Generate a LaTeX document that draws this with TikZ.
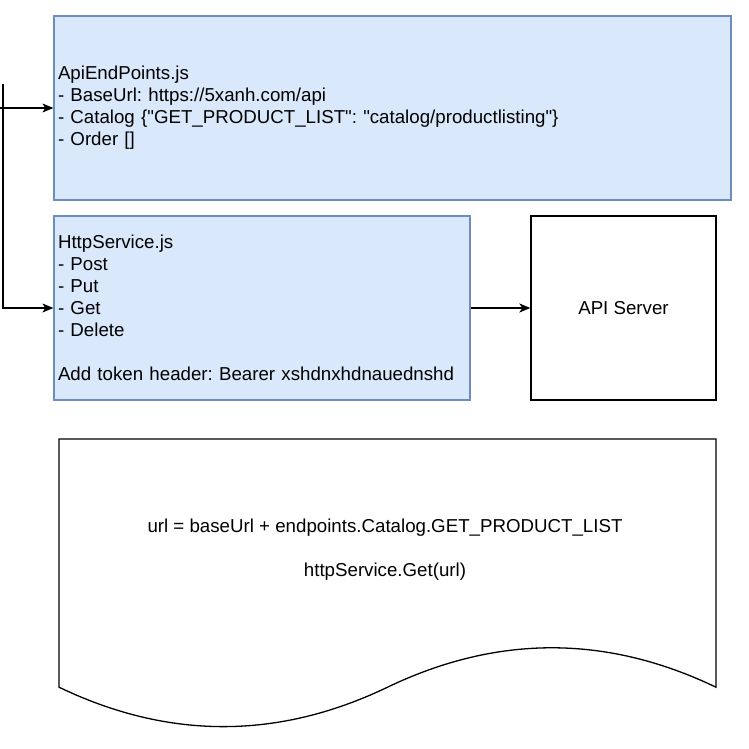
\documentclass[tikz,border=0pt]{standalone}
\usepackage{fontspec}
\newfontfamily\labelfont{Liberation Sans}
\usetikzlibrary{arrows.meta}
\definecolor{boxfill}{HTML}{DAE8FC}
\definecolor{boxline}{HTML}{6C8EBF}
\tikzset{
  bluebox/.style={draw=boxline, fill=boxfill, line width=1.2pt, inner xsep=4pt, align=left},
  serverbox/.style={draw=black, fill=white, line width=1.3pt, minimum width=185pt, minimum height=184pt},
  link/.style={line width=1.3pt, -{Stealth[length=11pt,width=9pt,inset=3pt]}}
}
\frenchspacing
\begin{document}
\begin{tikzpicture}[x=1pt, y=-1pt, font=\labelfont\fontsize{18.7}{22}\selectfont]
\useasboundingbox (0,0) rectangle (749,749);

\node [bluebox, minimum width=677pt, minimum height=184pt, text width=669pt] (endpoints) at (392.5, 108)
  {ApiEndPoints.js\\
   - BaseUrl: https://5xanh.com/api\\
   - Catalog \{"GET\_PRODUCT\_LIST": "catalog/productlisting"\}\\
   - Order []};
\node [bluebox, minimum width=416pt, minimum height=184pt, text width=408pt] (http) at (262, 308)
  {HttpService.js\\
   - Post\\
   - Put\\
   - Get\\
   - Delete\\[22pt]
   Add token header: Bearer xshdnxhdnauednshd};
\node [serverbox] (server) at (623.5, 308) {API Server};

\coordinate (in1) at (0, 108);
\coordinate (in2) at (3, 84);
\draw [link] (in1) -- (endpoints.west);
\draw [link] (in2) |- (http.west);
\draw [link] (http.east) -- (server.west);

% document shape
\draw [line width=1.3pt, fill=white] (59,439) -- (716,439) -- (716,687.2)
  .. controls (606.5,634.64) and (497,634.64) .. (387.5,687.2)
  .. controls (278,739.76) and (168.5,739.76) .. (59,687.2) -- cycle;
\node [align=center] (call) at (385, 550)
  {url = baseUrl + endpoints.Catalog.GET\_PRODUCT\_LIST\\[22pt]
   httpService.Get(url)};
\end{tikzpicture}
\end{document}
